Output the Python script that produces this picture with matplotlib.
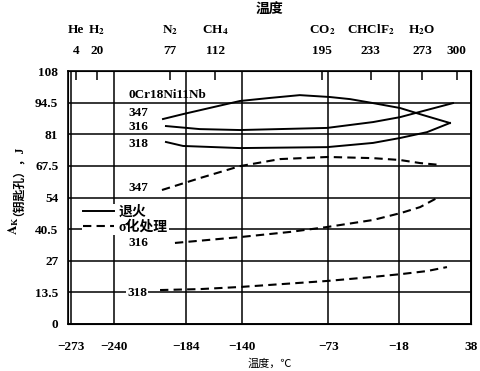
import matplotlib
matplotlib.use('Agg')
import matplotlib.pyplot as plt
from matplotlib.lines import Line2D

plt.rcParams['font.family'] = ['Liberation Serif', 'Noto Sans CJK SC']
plt.rcParams['mathtext.fontset'] = 'stix'
plt.rcParams['font.weight'] = 'bold'
plt.rcParams['mathtext.default'] = 'bf'

# bottom axis, deg C
x_ticks = [-273, -240, -184, -140, -73, -18, 38]
y_ticks = [0, 13.5, 27, 40.5, 54, 67.5, 81, 94.5, 108]
# top axis, Kelvin, with the gas that boils there
k_ticks = [4, 20, 77, 112, 195, 233, 273, 300]
gases = ['He', r'H$_2$', r'N$_2$', r'CH$_4$', r'CO$_2$', r'CHClF$_2$', r'H$_2$O', '']

# annealed (solid)
t347_a = [-201.6, -186.0, -141.7, -118.4, -95.2, -71.9, -56.1, -38.2, -17.2, 0.6, 21.6]
e347_a = [87.5, 89.6, 95.2, 96.5, 97.7, 96.9, 96.0, 94.3, 92.2, 89.2, 85.8]
t316_a = [-199.3, -173.0, -141.7, -74.0, -38.2, -17.2, 0.6, 24.0]
e316_a = [84.5, 83.2, 82.8, 83.7, 86.2, 88.3, 90.9, 94.3]
t318_a = [-199.3, -186.0, -141.7, -74.0, -38.2, -17.2, 3.8, 21.6]
e318_a = [77.7, 76.0, 75.1, 75.5, 77.3, 79.4, 81.9, 85.8]

# sigma treated (dashed)
t347_s = [-202.4, -172.8, -141.7, -110.6, -73.2, -38.2, -17.2, -1.6, 13.9]
e347_s = [57.2, 62.3, 67.4, 70.4, 71.3, 70.8, 70.0, 68.7, 67.9]
t316_s = [-192.3, -141.7, -102.8, -74.0, -38.2, -16.4, -1.6, 11.6]
e316_s = [34.6, 37.1, 39.3, 41.4, 44.4, 47.4, 49.9, 53.8]
t318_s = [-203.9, -172.8, -141.7, -73.2, -38.2, -16.4, 3.8, 19.3]
e318_s = [14.5, 14.9, 15.8, 18.4, 20.1, 21.3, 22.6, 24.3]

fig = plt.figure(figsize=(4.8, 3.71), dpi=100)
ax = fig.add_axes([68/480, 47/371, 403/480, 253/371])

dash = (4, 2.5)
ax.plot(t347_a, e347_a, color='black', lw=1.4)
ax.plot(t316_a, e316_a, color='black', lw=1.4)
ax.plot(t318_a, e318_a, color='black', lw=1.4)
ax.plot(t347_s, e347_s, color='black', lw=1.5, dashes=dash)
ax.plot(t316_s, e316_s, color='black', lw=1.5, dashes=dash)
ax.plot(t318_s, e318_s, color='black', lw=1.5, dashes=dash)

ax.set_xlim(-275.5, 38)
ax.set_ylim(0, 108)
ax.set_xticks(x_ticks)
ax.set_xticklabels([str(v).replace('-', '\u2212') for v in x_ticks])
ax.set_yticks(y_ticks)
ax.set_yticklabels([('%g' % v) for v in y_ticks])
ax.grid(True, color='black', lw=1.1)
ax.tick_params(axis='both', length=0, labelsize=9.5)
ax.tick_params(axis='x', pad=12)
ax.tick_params(axis='y', pad=7)
for s in ax.spines.values():
    s.set_linewidth(1.2)

# top Kelvin scale
ax2 = ax.twiny()
ax2.set_xlim(ax.get_xlim())
ax2.set_xticks([k - 273 for k in k_ticks])
ax2.set_xticklabels([str(k) for k in k_ticks])
ax2.tick_params(axis='x', direction='in', length=6.5, width=1.1, labelsize=9.5, pad=10)
for k, g in zip(k_ticks, gases):
    ax2.text(k - 273, 1.162, g, transform=ax2.get_xaxis_transform(),
             ha='center', va='center', fontsize=9.5)
fig.text(269/480, 1 - 9/371, '温度', ha='center', va='center', fontsize=10)

# curve labels
lab = dict(fontsize=9.5, ha='left', va='center')
ax.text(-228.8, 97.7, '0Cr18Ni11Nb', **lab)
ax.text(-228.8, 90.0, '347', **lab)
ax.text(-228.8, 84.0, '316', **lab)
ax.text(-228.8, 76.8, '318', **lab)
ax.text(-228.8, 58.0, '347', **lab)
ax.text(-228.8, 34.6, '316', **lab)
ax.text(-229.5, 13.3, '318', bbox=dict(facecolor='white', edgecolor='none', pad=0.5), **lab)

handles = [Line2D([], [], color='black', lw=1.4),
           Line2D([], [], color='black', lw=1.5, dashes=dash)]
leg = ax.legend(handles, ['退火', 'σ化处理'], loc='upper left', bbox_to_anchor=(0.035, 0.475),
                frameon=True, facecolor='white', edgecolor='none', framealpha=1,
                fontsize=10, handlelength=2.2, handletextpad=0.3, borderpad=0.1,
                labelspacing=0.1, borderaxespad=0, fancybox=False)

# y label in two pieces so the CJK part keeps its own font
y_split = 1 - 216/371
fig.text(14/480, y_split, r'$A_K$', rotation=90, ha='center', va='top', fontsize=9.5)
fig.text(14/480, y_split, '（钥匙孔），J', rotation=90, ha='center', va='bottom', fontsize=8.5)
ax.set_xlabel('温度，℃', fontsize=8)
ax.xaxis.set_label_coords(0.5, -0.134)

fig.savefig('out.png', dpi=100)
